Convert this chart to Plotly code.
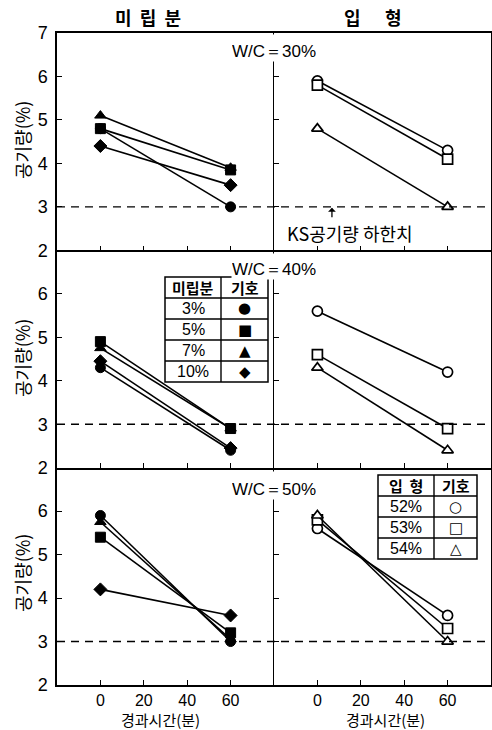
import plotly.graph_objects as go
from plotly.subplots import make_subplots

# ---------------- data ----------------
time_min = [0, 60]
x_ticks = [0, 20, 40, 60]

fine_labels = ["3%", "5%", "7%", "10%"]          # 미립분
fine_symbols = ["circle", "square", "triangle-up", "diamond"]
fine_legend_glyphs = ["●", "■", "▲", "◆"]

shape_labels = ["52%", "53%", "54%"]             # 입형
shape_symbols = ["circle", "square", "triangle-up"]
shape_legend_glyphs = ["○", "□", "△"]

wc_labels = ["W/C＝30%", "W/C＝40%", "W/C＝50%"]

# 미립분 panels: values at 0 min and 60 min (order 3%, 5%, 7%, 10%)
fine_30_t0 = [4.8, 4.8, 5.1, 4.4]
fine_30_t60 = [3.0, 3.85, 3.9, 3.5]
fine_40_t0 = [4.3, 4.9, 4.75, 4.45]
fine_40_t60 = [2.4, 2.9, 2.9, 2.45]
fine_50_t0 = [5.9, 5.4, 5.75, 4.2]
fine_50_t60 = [3.0, 3.2, 3.05, 3.6]

# 입형 panels: values at 0 min and 60 min (order 52%, 53%, 54%)
shape_30_t0 = [5.9, 5.8, 4.8]
shape_30_t60 = [4.3, 4.1, 3.0]
shape_40_t0 = [5.6, 4.6, 4.3]
shape_40_t60 = [4.2, 2.9, 2.4]
shape_50_t0 = [5.6, 5.8, 5.9]
shape_50_t60 = [3.6, 3.3, 3.0]

ks_limit = 3.0

# ---------------- geometry ----------------
W, H = 492, 730
ML, MR, MT, MB = 57, 1, 33, 45
PW, PH = W - ML - MR, H - MT - MB


def px_x(px):
    return (px - ML) / PW


def px_y(py):
    return (H - MB - py) / PH


KR = "Noto Sans CJK KR"
NUM = "Liberation Sans"

fig = make_subplots(rows=3, cols=2, horizontal_spacing=0, vertical_spacing=0)

fine_rows = [(fine_30_t0, fine_30_t60), (fine_40_t0, fine_40_t60), (fine_50_t0, fine_50_t60)]
shape_rows = [(shape_30_t0, shape_30_t60), (shape_40_t0, shape_40_t60), (shape_50_t0, shape_50_t60)]

for r, (t0, t60) in enumerate(fine_rows, start=1):
    for i in range(len(fine_labels)):
        fig.add_trace(go.Scatter(
            x=time_min, y=[t0[i], t60[i]], mode="lines+markers",
            name=fine_labels[i], showlegend=False, cliponaxis=False,
            line=dict(color="black", width=1.6),
            marker=dict(symbol=fine_symbols[i], size=10, color="black",
                        line=dict(color="black", width=1)),
        ), row=r, col=1)

for r, (t0, t60) in enumerate(shape_rows, start=1):
    for i in range(len(shape_labels)):
        fig.add_trace(go.Scatter(
            x=time_min, y=[t0[i], t60[i]], mode="lines+markers",
            name=shape_labels[i], showlegend=False, cliponaxis=False,
            line=dict(color="black", width=1.6),
            marker=dict(symbol=shape_symbols[i], size=10, color="white",
                        line=dict(color="black", width=1.7)),
        ), row=r, col=2)

# axes: each shared border drawn only once
for r in range(1, 4):
    for c in range(1, 3):
        fig.update_xaxes(
            range=[-20, 80], tickvals=x_ticks,
            showticklabels=(r == 3),
            ticks="inside", ticklen=5, tickwidth=1.3, tickcolor="black",
            showline=True, linecolor="black", linewidth=1.5,
            mirror=(r == 1),
            showgrid=False, zeroline=False,
            tickfont=dict(family=NUM, size=16, color="black"),
            row=r, col=c)
        yt = [2, 3, 4, 5, 6, 7] if r == 1 else [2, 3, 4, 5, 6]
        fig.update_yaxes(
            range=[2, 7], tickvals=yt,
            showticklabels=(c == 1),
            ticks="inside", ticklen=5, tickwidth=1.3, tickcolor="black",
            showline=True, linecolor="black",
            linewidth=(1.5 if c == 1 else 1.2),
            mirror=(c == 2),
            showgrid=False, zeroline=False,
            tickfont=dict(family=NUM, size=18, color="black"),
            ticklabelstandoff=4,
            row=r, col=c)

# dashed KS lower limit across each row (both panels)
for r in range(3):
    yref = ["y", "y3", "y5"][r]
    fig.add_shape(type="line", xref="paper", yref=yref, x0=0, x1=1,
                  y0=ks_limit, y1=ks_limit,
                  line=dict(color="black", width=1.4, dash="8px,6px"))


def ann(x, y, text, size, family=KR, **kw):
    d = dict(xref="paper", yref="paper", x=px_x(x), y=px_y(y), text=text,
             showarrow=False, xanchor="center", yanchor="middle",
             font=dict(family=family, size=size, color="black"))
    d.update(kw)
    fig.add_annotation(**d)


# column headers
ann(148, 17, "<b>미  립  분</b>", 18)
ann(373, 17, "<b>입      형</b>", 18)

# W/C labels covering the divider
panel_tops = [33, 252, 470]
gap_ends = [62, 280, 500]
for lab, top, end in zip(wc_labels, panel_tops, gap_ends):
    fig.add_annotation(xref="paper", yref="paper", x=0.5, y=px_y(end),
                       xanchor="center", yanchor="bottom",
                       height=end - top - 3, valign="bottom",
                       text=lab, showarrow=False, bgcolor="white",
                       borderpad=0,
                       font=dict(family=NUM, size=17, color="black"))

# y titles
for cy in [140, 358, 573]:
    ann(22, cy, "공기량(%)", 18, textangle=-90)

# x titles
for cx in [160, 385]:
    ann(cx, 719.5, "경과시간(분)", 15)

# KS label + arrow
ann(350, 233, "KS공기량 하한치", 18)
fig.add_annotation(xref="x2", yref="y2", x=6.7, y=ks_limit - 0.02,
                   text="", showarrow=True, arrowhead=1, arrowsize=1,
                   arrowwidth=1.3, arrowcolor="black", ax=0, ay=11,
                   standoff=0)


def pline(x0, y0, x1, y1):
    fig.add_shape(type="line", xref="paper", yref="paper",
                  x0=px_x(x0), x1=px_x(x1), y0=px_y(y0), y1=px_y(y1),
                  line=dict(color="black", width=1.4), layer="above")


def table(x0, xm, x1, ys, header, labels, glyphs, hdr_size, glyph_size, glyph_font):
    fig.add_shape(type="rect", xref="paper", yref="paper",
                  x0=px_x(x0), x1=px_x(x1), y0=px_y(ys[-1]), y1=px_y(ys[0]),
                  fillcolor="white", line=dict(color="black", width=1.5),
                  layer="above")
    pline(xm, ys[0], xm, ys[-1])
    for yy in ys[1:-1]:
        pline(x0, yy, x1, yy)
    cx_a = (x0 + xm) / 2
    cx_b = (xm + x1) / 2
    cy0 = (ys[0] + ys[1]) / 2
    ann(cx_a, cy0, "<b>%s</b>" % header[0], hdr_size)
    ann(cx_b, cy0, "<b>%s</b>" % header[1], hdr_size)
    for k, (lab, g) in enumerate(zip(labels, glyphs)):
        cy = (ys[k + 1] + ys[k + 2]) / 2
        ann(cx_a, cy, lab, 16, family=NUM)
        ann(cx_b, cy, g, glyph_size, family=glyph_font)


table(165, 221, 268, [277, 298, 319, 340, 361, 382], ("미립분", "기호"),
      fine_labels, fine_legend_glyphs, 15, 15, "DejaVu Sans")
table(378, 434, 477, [475, 496, 517, 538, 559], ("입  형", "기호"),
      shape_labels, shape_legend_glyphs, 15, 15, "DejaVu Sans")

fig.update_layout(
    width=W, height=H,
    margin=dict(l=ML, r=MR, t=MT, b=MB),
    paper_bgcolor="white", plot_bgcolor="white",
    showlegend=False,
)

fig.write_html("out.html",
               config={"displayModeBar": False},
               post_script="document.body.style.margin='0px';")
